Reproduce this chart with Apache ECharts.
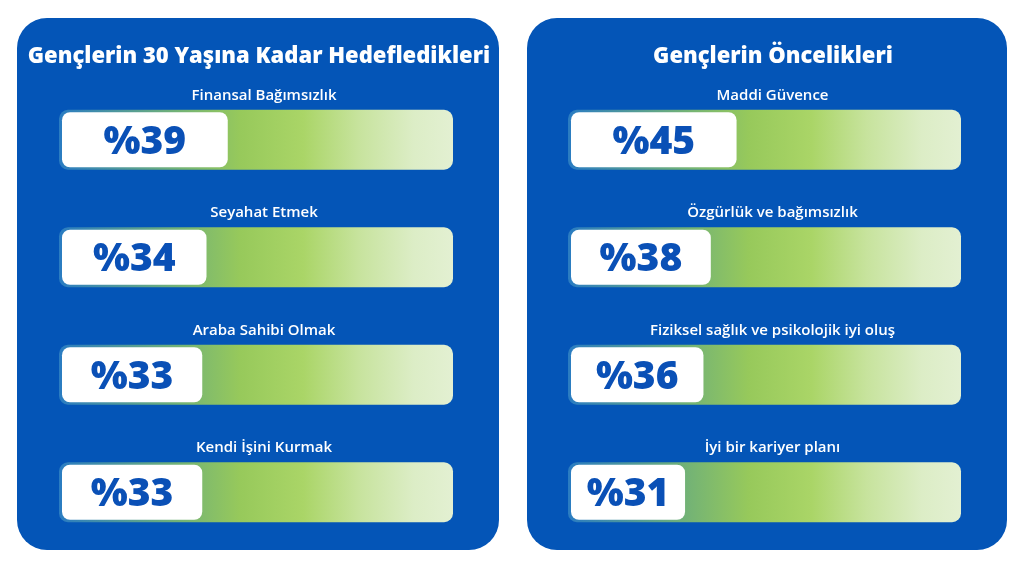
<!DOCTYPE html>
<html>
<head>
<meta charset="utf-8">
<script src="https://cdn.jsdelivr.net/npm/echarts@6/dist/echarts.min.js"></script>
<style>
html,body{margin:0;padding:0;background:#ffffff;}
#chart{width:1024px;height:564px;}
</style>
</head>
<body>
<div id="chart"></div>
<script>
// ---- data ----
const leftTitle = 'Gençlerin 30 Yaşına Kadar Hedefledikleri';
const rightTitle = 'Gençlerin Öncelikleri';
const leftCategories = ['Finansal Bağımsızlık', 'Seyahat Etmek', 'Araba Sahibi Olmak', 'Kendi İşini Kurmak'];
const leftValues = [39, 34, 33, 33];
const rightCategories = ['Maddi Güvence', 'Özgürlük ve bağımsızlık', 'Fiziksel sağlık ve psikolojik iyi oluş', 'İyi bir kariyer planı'];
const rightValues = [45, 38, 36, 31];
const trackFull = 100;

// ---- styling ----
const PANEL = '#0455b7';
const TEXT_BLUE = '#0a50b6';
const trackGradient = {
  type: 'linear', x: 0, y: 0, x2: 1, y2: 0,
  colorStops: [
    { offset: 0, color: '#2a7cc2' },
    { offset: 0.30, color: '#72b276' },
    { offset: 0.46, color: '#97c95b' },
    { offset: 0.62, color: '#aad567' },
    { offset: 0.76, color: '#c7e39d' },
    { offset: 0.9, color: '#dcedc6' },
    { offset: 1, color: '#e3f0d2' }
  ]
};

const chart = echarts.init(document.getElementById('chart'), null, { renderer: 'canvas' });

const gridTop = 81, gridH = 470;
const grids = [
  { left: 59, width: 394, top: gridTop, height: gridH },   // left tracks
  { left: 62, width: 391, top: gridTop, height: gridH },   // left boxes
  { left: 568, width: 393, top: gridTop, height: gridH },  // right tracks
  { left: 571, width: 390, top: gridTop, height: gridH }   // right boxes
];
const xMax = [trackFull, 92, trackFull, 106];
const cats = [leftCategories, leftCategories, rightCategories, rightCategories];

function trackSeries(idx, categories) {
  return {
    type: 'bar', xAxisIndex: idx, yAxisIndex: idx, z: 2,
    barWidth: 60, silent: true,
    data: categories.map(() => trackFull),
    itemStyle: { color: trackGradient, borderRadius: 9 },
    label: {
      show: true, position: 'top', distance: 7, offset: [8, 0],
      formatter: '{b}', color: '#ffffff', fontSize: 15, fontWeight: 600,
      fontFamily: 'Open Sans'
    }
  };
}
function boxSeries(idx, values) {
  return {
    type: 'bar', xAxisIndex: idx, yAxisIndex: idx, z: 3,
    barWidth: 55, silent: true,
    data: values,
    itemStyle: { color: '#ffffff', borderRadius: 8 },
    label: {
      show: true, position: 'inside', formatter: '%{c}', offset: [0, 3],
      color: TEXT_BLUE, fontSize: 39, fontWeight: 800, fontFamily: 'Open Sans'
    }
  };
}

chart.setOption({
  animation: false,
  backgroundColor: '#ffffff',
  graphic: {
    elements: [
      { type: 'rect', z: 0, shape: { x: 17, y: 18, width: 482, height: 532, r: 30 }, style: { fill: PANEL } },
      { type: 'rect', z: 0, shape: { x: 527, y: 18, width: 480, height: 532, r: 30 }, style: { fill: PANEL } }
    ]
  },
  title: [
    { text: leftTitle, left: 254, top: 41, textAlign: 'center',
      textStyle: { color: '#ffffff', fontSize: 22, fontWeight: 800, fontFamily: 'Open Sans' } },
    { text: rightTitle, left: 768, top: 41, textAlign: 'center',
      textStyle: { color: '#ffffff', fontSize: 22, fontWeight: 800, fontFamily: 'Open Sans' } }
  ],
  grid: grids,
  xAxis: grids.map((g, i) => ({
    type: 'value', gridIndex: i, min: 0, max: xMax[i], show: false
  })),
  yAxis: grids.map((g, i) => ({
    type: 'category', gridIndex: i, data: cats[i], inverse: true, show: false
  })),
  series: [
    trackSeries(0, leftCategories),
    boxSeries(1, leftValues),
    trackSeries(2, rightCategories),
    boxSeries(3, rightValues)
  ]
});
</script>
</body>
</html>
